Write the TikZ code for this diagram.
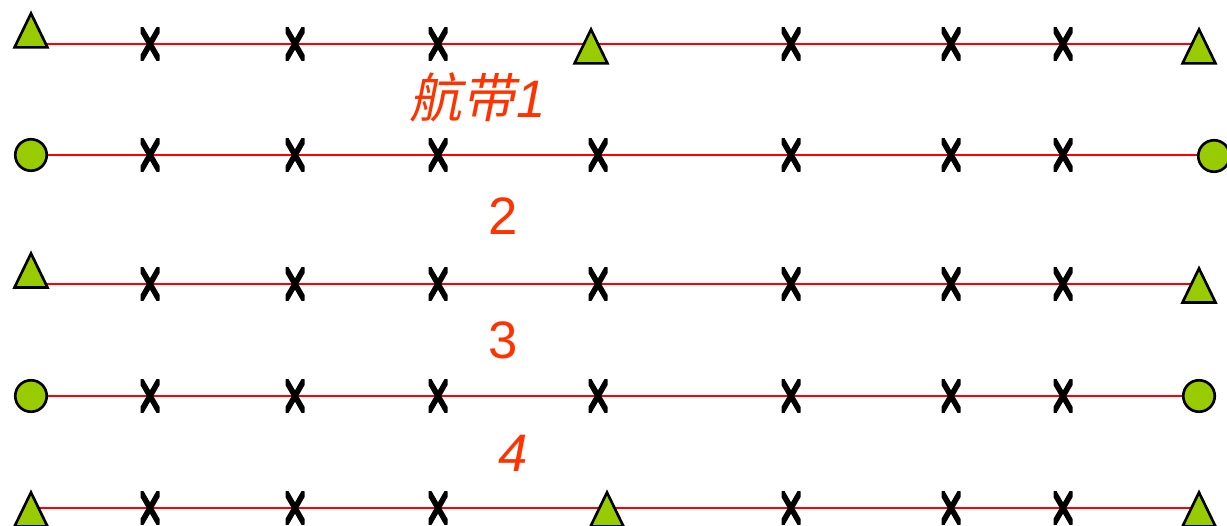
\documentclass[tikz,border=0pt]{standalone}
\usepackage{fontspec}
\setmainfont{Liberation Sans}
\newfontfamily\cjk[FakeSlant=0.2]{Noto Sans CJK SC}
\usetikzlibrary{shapes.geometric,backgrounds}
\definecolor{markgreen}{HTML}{99CC00}
\definecolor{bandred}{HTML}{FF0000}
\definecolor{labelred}{HTML}{FF3300}
\tikzset{
  band/.style={draw=bandred,line width=1.6pt},
  ctrl tri/.style={isosceles triangle,isosceles triangle stretches,shape border rotate=90,
    minimum width=0.66cm,minimum height=0.68cm,inner sep=0pt,fill=markgreen,draw=black,
    line width=1.5pt,anchor=apex},
  ctrl dot/.style={circle,minimum size=0.63cm,inner sep=0pt,fill=markgreen,draw=black,line width=1.5pt},
  tie/.style={minimum width=0.38cm,minimum height=0.66cm,inner sep=0pt,
    path picture={\draw[line width=3.2pt]
      (path picture bounding box.north west) -- (path picture bounding box.south east)
      (path picture bounding box.north east) -- (path picture bounding box.south west);}},
  strip label/.style={text=labelred,inner sep=0pt,font=\fontsize{30}{36}\selectfont}
}

\begin{document}
\begin{tikzpicture}[x=0.02cm,y=-0.02cm]
\useasboundingbox (0,0) rectangle (1227,526);
% strip 1
\node[ctrl tri] (t11) at (31,10) {};
\node[ctrl tri] (t12) at (591,26) {};
\node[ctrl tri] (t13) at (1199,26) {};
\node[tie] (x11) at (150,44) {};
\node[tie] (x12) at (295,44) {};
\node[tie] (x13) at (438,44) {};
\node[tie] (x14) at (791,44) {};
\node[tie] (x15) at (951,44) {};
\node[tie] (x16) at (1063,44) {};
% strip 2
\node[ctrl dot] (c21) at (31,155) {};
\node[ctrl dot] (c22) at (1214,156) {};
\node[tie] (x21) at (150,155) {};
\node[tie] (x22) at (295,155) {};
\node[tie] (x23) at (438,155) {};
\node[tie] (x24) at (598,155) {};
\node[tie] (x25) at (791,155) {};
\node[tie] (x26) at (951,155) {};
\node[tie] (x27) at (1063,155) {};
% strip 3
\node[ctrl tri] (t31) at (31,250) {};
\node[ctrl tri] (t32) at (1199,265) {};
\node[tie] (x31) at (150,284) {};
\node[tie] (x32) at (295,284) {};
\node[tie] (x33) at (438,284) {};
\node[tie] (x34) at (598,284) {};
\node[tie] (x35) at (791,284) {};
\node[tie] (x36) at (951,284) {};
\node[tie] (x37) at (1063,284) {};
% strip 4
\node[ctrl dot] (c41) at (31,396) {};
\node[ctrl dot] (c42) at (1199,396) {};
\node[tie] (x41) at (150,396) {};
\node[tie] (x42) at (295,396) {};
\node[tie] (x43) at (438,396) {};
\node[tie] (x44) at (598,396) {};
\node[tie] (x45) at (791,396) {};
\node[tie] (x46) at (951,396) {};
\node[tie] (x47) at (1063,396) {};
% strip 5
\node[ctrl tri] (t51) at (31,489) {};
\node[ctrl tri] (t52) at (607,489) {};
\node[ctrl tri] (t53) at (1199,489) {};
\node[tie] (x51) at (150,508) {};
\node[tie] (x52) at (295,508) {};
\node[tie] (x53) at (438,508) {};
\node[tie] (x54) at (791,508) {};
\node[tie] (x55) at (951,508) {};
\node[tie] (x56) at (1063,508) {};
% strip lines
\begin{scope}[on background layer]
\draw[band] (t11.apex |- x11.center) -- (t13.apex |- x11.center);
\draw[band] (c21.center |- x21.center) -- (c22.center |- x21.center);
\draw[band] (t31.apex |- x31.center) -- (t32.apex |- x31.center);
\draw[band] (c41.center |- x41.center) -- (c42.center |- x41.center);
\draw[band] (t51.apex |- x51.center) -- (t53.apex |- x51.center);
\end{scope}
% labels
\node[strip label] (lab1) at (478,97) {{\cjk 航带}\kern1pt\textit{1}};
\node[strip label] (lab2) at (503,216) {2};
\node[strip label] (lab3) at (503,340) {3};
\node[strip label] (lab4) at (513,453) {\textit{4}};
\end{tikzpicture}
\end{document}
